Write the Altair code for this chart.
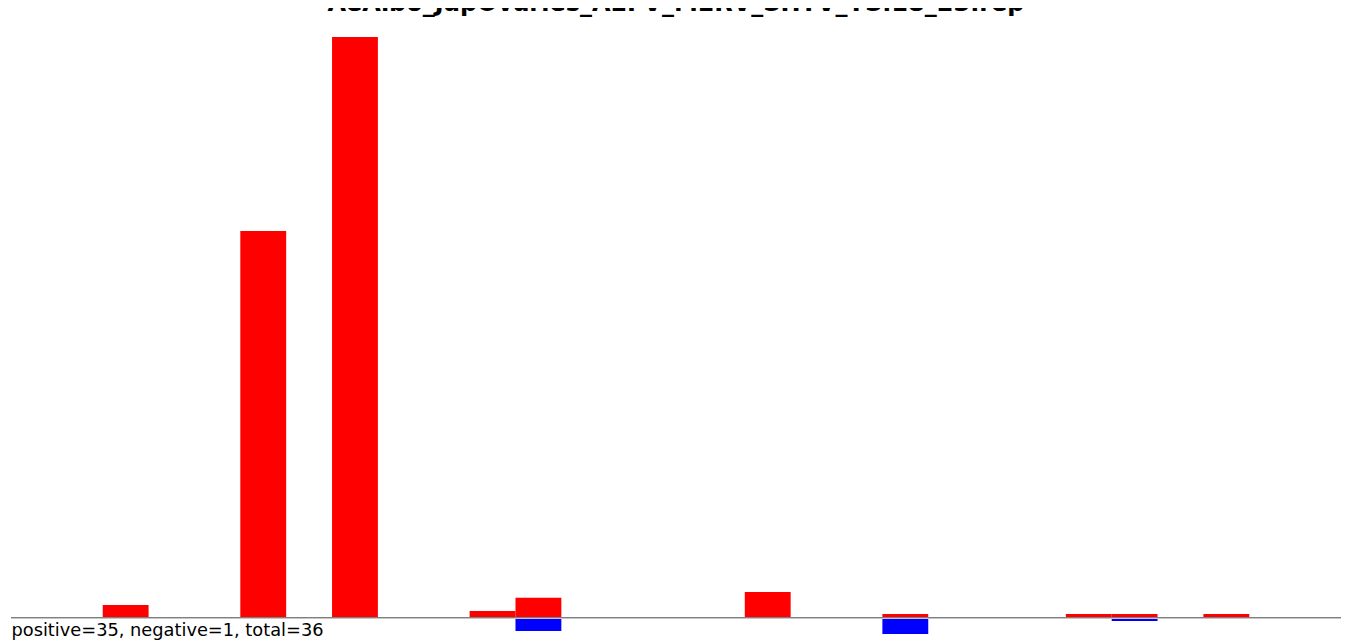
import altair as alt
import pandas as pd

# ---- data ----
title_text = "AeAlbo_JapOvaries_AEFV_MERV_SHTV_YS.18_23.rep"
n_slots = 29

pos_slots = [2, 5, 7, 10, 11, 16, 19, 23, 24, 26]
pos_values = [4.1, 133.1, 200.0, 2.1, 6.6, 8.6, 1.0, 1.0, 1.0, 1.0]

neg_slots = [11, 19, 24]
neg_values = [-4.8, -5.9, -1.4]

n_positive = 35
n_negative = 1
summary_text = f"positive={n_positive}, negative={n_negative}, total={n_positive + n_negative}"

# ---- layout ----
W, H = 1330, 634
baseline_px = 609.0          # y (px) of value 0 inside the plot
px_per_unit = 580.0 / 200.0
y_top = baseline_px / px_per_unit
y_bot = -(H - baseline_px) / px_per_unit

pos_df = pd.DataFrame({"slot": pos_slots, "value": pos_values})
neg_df = pd.DataFrame({"slot": neg_slots, "value": neg_values})

xscale = alt.Scale(domain=[0, n_slots], nice=False, zero=False)
yscale = alt.Scale(domain=[y_bot, y_top], nice=False, zero=False)


def bars(df, color):
    return (
        alt.Chart(df)
        .transform_calculate(slot_end="datum.slot + 1")
        .mark_bar(color=color, strokeWidth=0)
        .encode(
            x=alt.X("slot:Q", scale=xscale, axis=None),
            x2="slot_end:Q",
            y=alt.Y("value:Q", scale=yscale, axis=None),
            y2=alt.datum(0),
        )
    )


red = bars(pos_df, "#ff0000")
blue = bars(neg_df, "#0000ff")

zero_df = pd.DataFrame({"v": [0]})
rule_dark = (
    alt.Chart(zero_df)
    .mark_rule(color="#7f7f7f", strokeWidth=1, yOffset=0.5)
    .encode(y=alt.Y("v:Q", scale=yscale, axis=None))
)
rule_light = (
    alt.Chart(zero_df)
    .mark_rule(color="#c6c6c6", strokeWidth=1, yOffset=1.5)
    .encode(y=alt.Y("v:Q", scale=yscale, axis=None))
)

summary = (
    alt.Chart(pd.DataFrame({"label": [summary_text]}))
    .mark_text(align="left", baseline="alphabetic", font="DejaVu Sans",
               fontSize=17.8, color="#000000")
    .encode(x=alt.value(0.5), y=alt.value(628), text="label:N")
)

title = (
    alt.Chart(pd.DataFrame({"label": [title_text]}))
    .mark_text(align="center", baseline="alphabetic", font="DejaVu Sans",
               fontWeight="bold", fontSize=24, color="#000000")
    .encode(x=alt.value(W / 2), y=alt.value(3), text="label:N")
)

chart = (
    alt.layer(red, blue, rule_dark, rule_light, summary, title)
    .properties(
        width=W,
        height=H,
        autosize=alt.AutoSizeParams(type="none"),
        padding={"left": 3, "top": 0, "right": 0, "bottom": 0},
        background="#ffffff",
    )
    .configure_view(stroke=None)
)

chart.save("out.html", embed_options={"renderer": "svg", "actions": False})
